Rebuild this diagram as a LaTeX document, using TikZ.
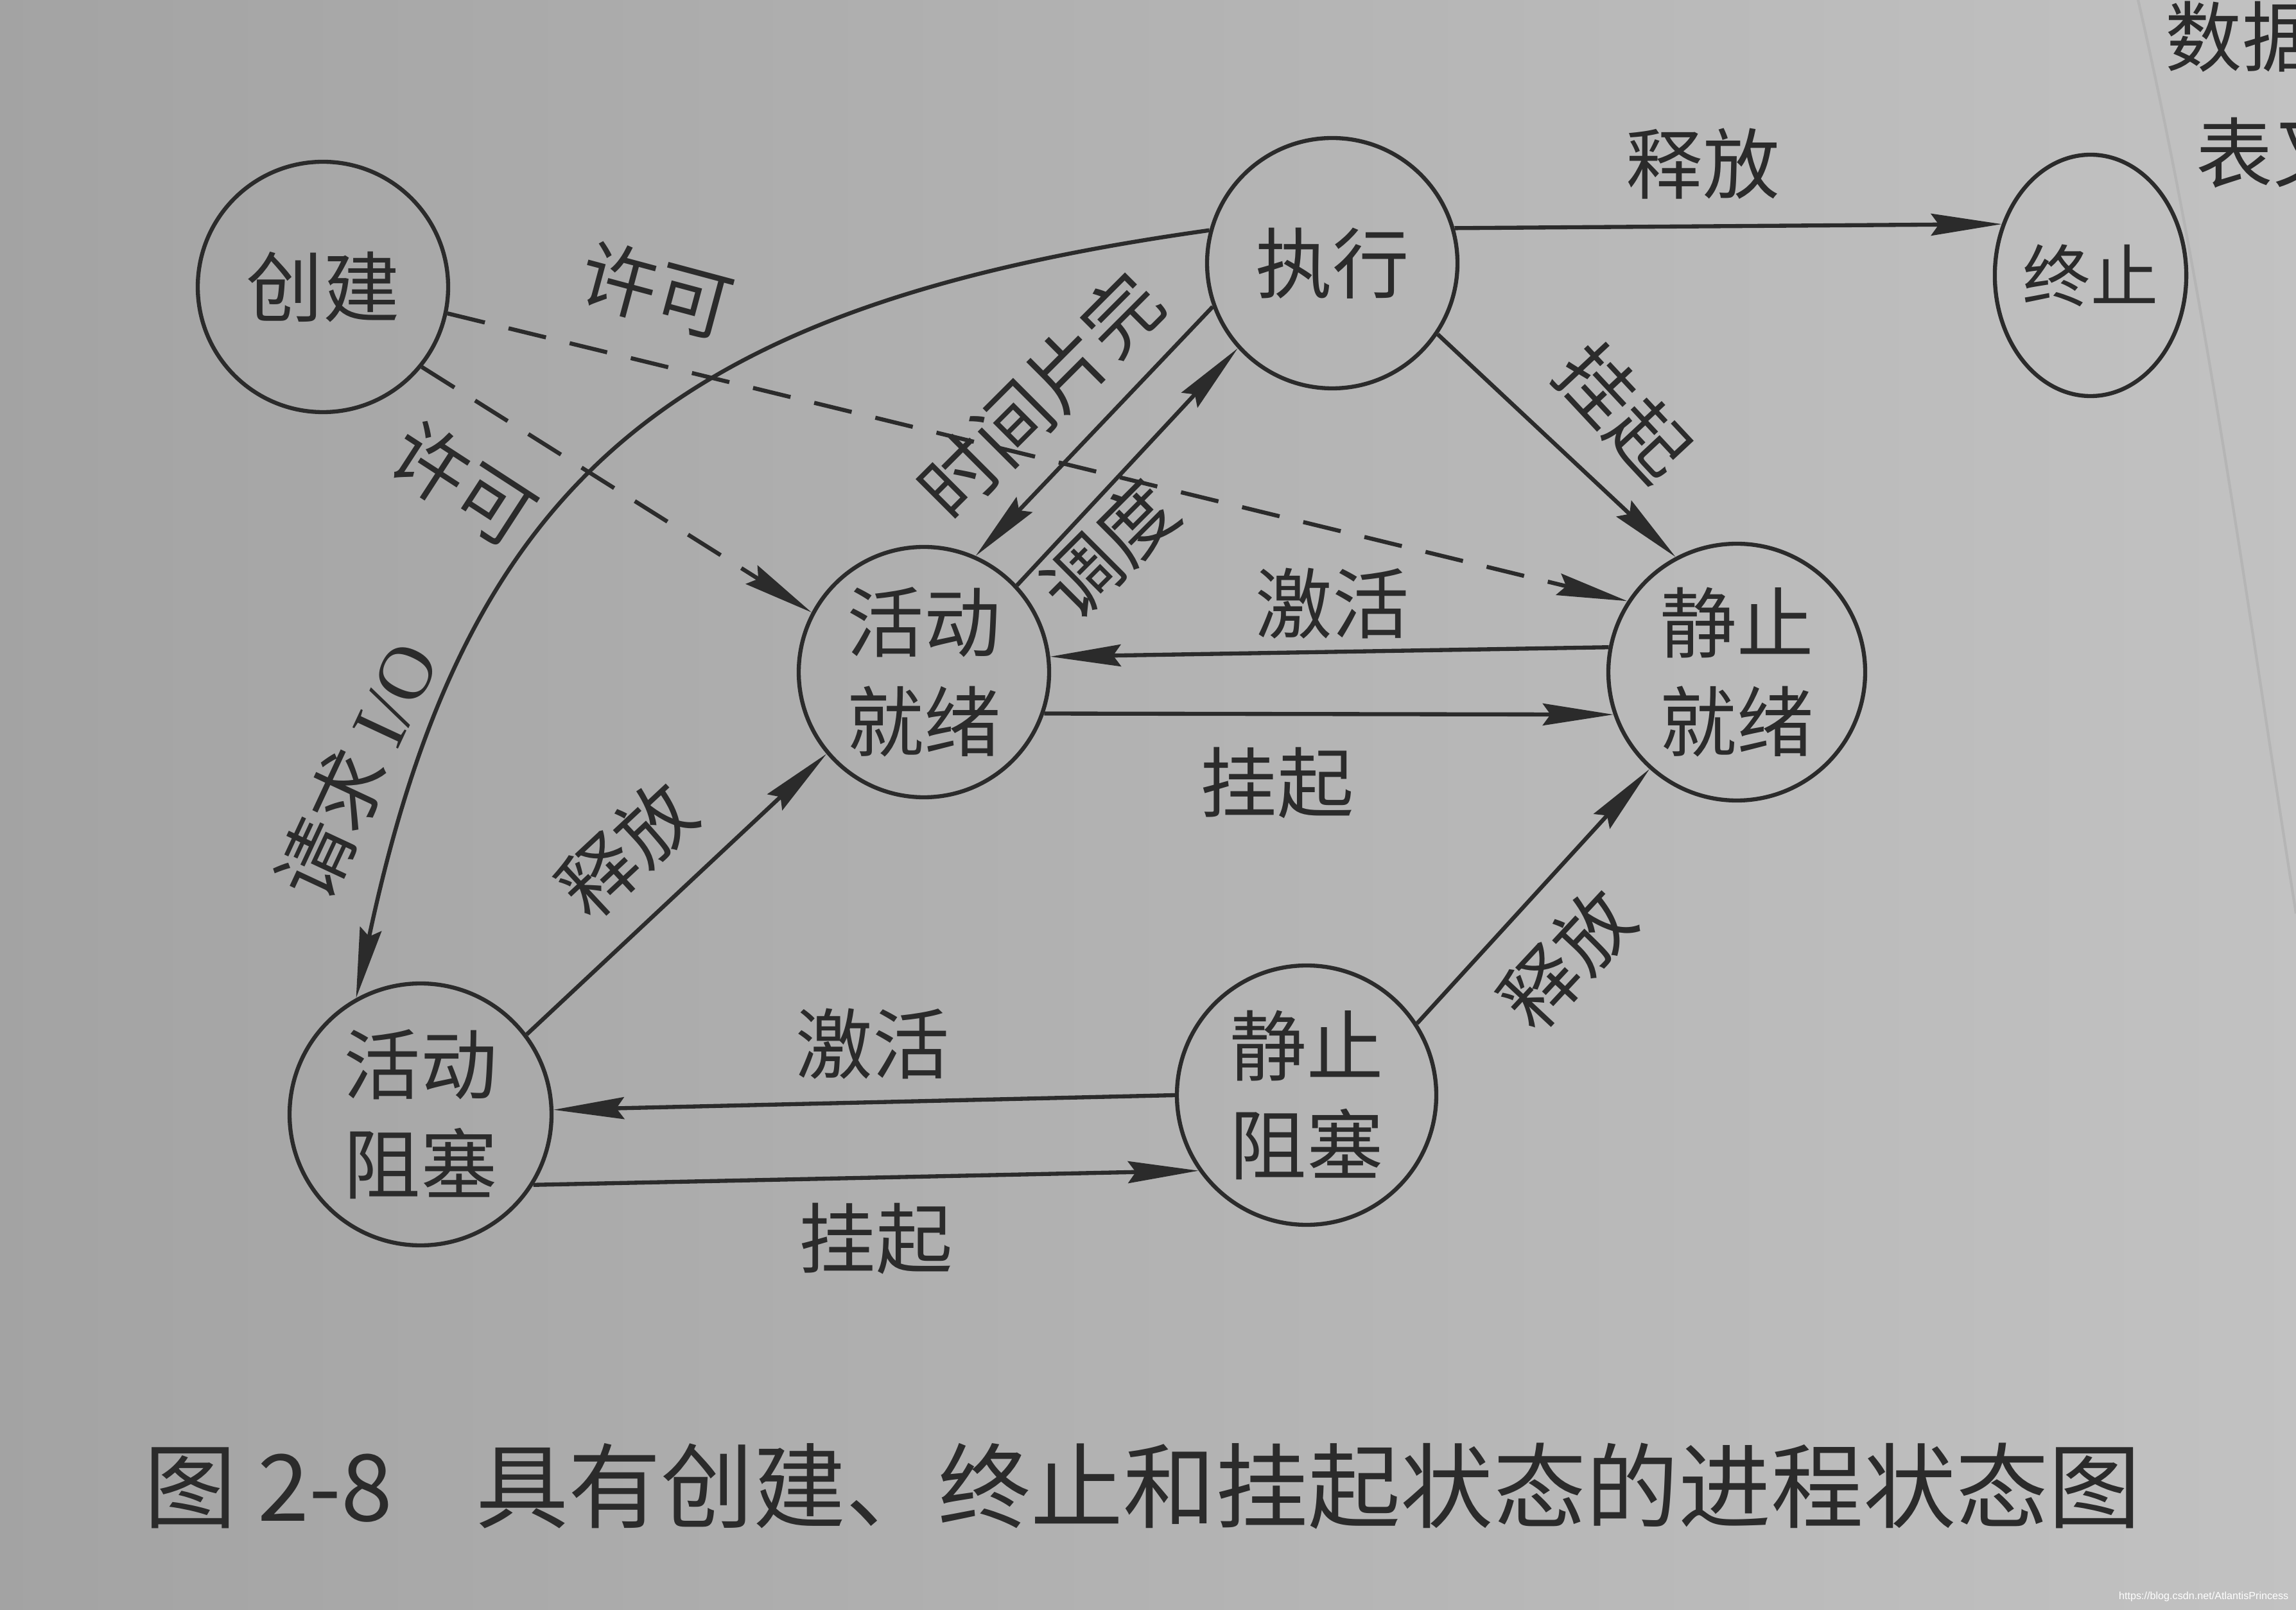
\documentclass[tikz,border=0pt]{standalone}
\usepackage{fontspec}
\setmainfont{Noto Sans CJK SC}
\newfontfamily\iofont{Liberation Serif}
\newfontfamily\urlfont{Liberation Sans}
\usetikzlibrary{arrows.meta}
\usetikzlibrary{shapes.geometric}
\definecolor{ink}{gray}{0.17}
\definecolor{paperL}{gray}{0.64}
\definecolor{paperR}{gray}{0.76}
\newcommand{\statefont}{\fontsize{34}{44}\selectfont}
\newcommand{\edgefont}{\fontsize{34}{40}\selectfont}

\begin{document}
\begin{tikzpicture}[
    state/.style={circle,draw=ink,line width=1.8pt,minimum size=3.9cm,
      inner sep=0pt,align=center,font=\statefont,text=ink},
    arr/.style={draw=ink,line width=1.8pt,
      -{Stealth[length=1.1cm,width=0.34cm,inset=0.12cm]}},
    grant/.style={arr,dash pattern=on 0.6cm off 0.38cm},
    lbl/.style={font=\edgefont,text=ink,inner sep=0pt}]
  \useasboundingbox (0,0) rectangle (35.76,25.07);
  \fill[left color=paperL,right color=paperR] (0,0) rectangle (35.76,25.07);
  \draw[ink!35,line width=1.2pt] (33.30,25.07)
    .. controls (34.38,20.37) and (35.01,15.54) .. (35.76,10.84);
  \node[lbl,anchor=west] (pg1) at (33.72,24.50) {数据};
  \node[lbl,anchor=west] (pg2) at (34.20,22.69) {表又};

  \node[state] (create) at (5.03,20.60) {创建};
  \node[state] (run) at (20.75,20.97) {执行};
  \node[state,ellipse,minimum width=2.84cm,minimum height=3.76cm,
    font=\fontsize{30}{36}\selectfont] (exit) at (32.56,20.78) {终止};
  \node[state] (ready) at (14.39,14.60) {活动\\就绪};
  \node[state,minimum size=4.0cm] (sready) at (27.05,14.60) {静止\\就绪};
  \node[state,minimum size=4.08cm] (block) at (6.55,7.71) {活动\\阻塞};
  \node[state,minimum size=4.04cm] (sblock) at (20.35,8.01) {静止\\阻塞};

  \draw[arr] (run.16) -- (exit.150);
  \draw[arr] (run.165) to[out=188,in=78,looseness=1.2] (block.119);
  \draw[grant] (create.-12) -- (sready.147);
  \draw[grant] (create.-39) -- (ready.152);
  \draw[arr] (run.200) -- (ready.66);
  \draw[arr] (ready.43) -- (run.222);
  \draw[arr] (run.-34) -- (sready.118);
  \draw[arr] (sready.169) -- (ready.7);
  \draw[arr] (ready.-19) -- (sready.199);
  \draw[arr] (block.37) -- (ready.220);
  \draw[arr] (sblock.33) -- (sready.228);
  \draw[arr] (sblock.180) -- (block.2);
  \draw[arr] (block.-32) -- (sblock.215);

  \node[lbl] (l1) at (26.52,22.52) {释放};
  \node[lbl,rotate=65] (l2) at (5.55,13.07) {请求 {\iofont I/O}};
  \node[lbl,rotate=-15] (l3) at (10.23,20.55) {许可};
  \node[lbl,rotate=-33] (l4) at (7.21,17.54) {许可};
  \node[lbl,rotate=45] (l5) at (16.20,18.91) {时间片完};
  \node[lbl,rotate=45] (l6) at (17.27,16.52) {调度};
  \node[lbl,rotate=-47] (l7) at (25.28,18.65) {挂起};
  \node[lbl] (l8) at (20.75,15.67) {激活};
  \node[lbl] (l9) at (19.89,12.87) {挂起};
  \node[lbl,rotate=43] (l10) at (9.76,11.84) {释放};
  \node[lbl,rotate=47] (l11) at (24.40,10.13) {释放};
  \node[lbl] (l12) at (13.59,8.81) {激活};
  \node[lbl] (l13) at (13.64,5.77) {挂起};

  \node[lbl,anchor=west,font=\fontsize{41}{48}\selectfont] (caption)
    at (2.24,1.92) {图 2-8\hspace{1.3cm}具有创建、终止和挂起状态的进程状态图};
  \node[anchor=east,text=white,inner sep=0pt,
    font=\urlfont\fontsize{4.6}{5}\selectfont] (mark)
    at (35.65,0.20) {https://blog.csdn.net/AtlantisPrincess};
\end{tikzpicture}
\end{document}
